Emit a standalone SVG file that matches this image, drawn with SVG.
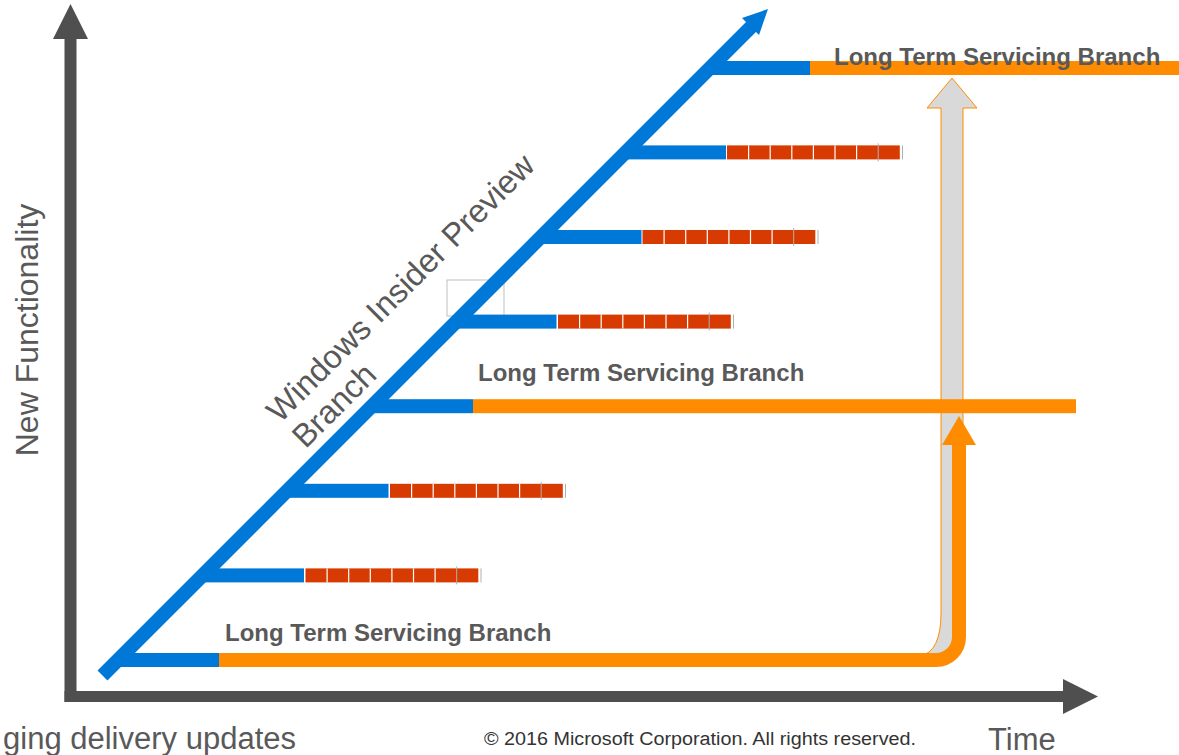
<svg xmlns="http://www.w3.org/2000/svg" width="1179" height="755" viewBox="0 0 1179 755">
<style>
.axis{fill:#4F4F4F}
.blue{fill:#0078D7}
.orange{fill:#FF8C00}
.red{fill:#D83B01}
.sep{stroke:#FFFFFF;stroke-width:1.2}
.tick{stroke:#B0B0B0;stroke-width:1}
.lbl{font-family:"Liberation Sans",Arial,sans-serif;fill:#595959}
.ltsb{font-family:"Liberation Sans",Arial,sans-serif;font-weight:bold;font-size:24px;fill:#595959}
</style>
<defs>
<g id="redbar">
<rect class="red" x="0" y="-7" width="172.8" height="14"/>
<line class="sep" x1="21.6" y1="-7" x2="21.6" y2="7"/>
<line class="sep" x1="43.2" y1="-7" x2="43.2" y2="7"/>
<line class="sep" x1="64.8" y1="-7" x2="64.8" y2="7"/>
<line class="sep" x1="86.4" y1="-7" x2="86.4" y2="7"/>
<line class="sep" x1="108" y1="-7" x2="108" y2="7"/>
<line class="sep" x1="129.6" y1="-7" x2="129.6" y2="7"/>
<line class="tick" x1="151.2" y1="-9" x2="151.2" y2="9"/>
<line class="tick" x1="175.5" y1="-7" x2="175.5" y2="7"/>
</g>
</defs>

<g id="axes">
<rect class="axis" x="64.5" y="38" width="12" height="664"/>
<polygon class="axis" points="53,39 70.5,4 88,39"/>
<rect class="axis" x="64.5" y="691" width="999" height="11"/>
<polygon class="axis" points="1063,679 1098,696.5 1063,714"/>
</g>

<rect id="placeholder-box" x="447" y="280" width="57" height="36" fill="none" stroke="#BFBFBF" stroke-width="1"/>

<g id="ltsb-upgrade-arrow">
<path d="M941 108 L927 108 L952 78 L977 108 L963 108 L963 637 Q963 660 940 660 L920 656 Q941 652 941 613 Z" fill="#D9D9D9" stroke="#FF8C00" stroke-width="1"/>
</g>

<g id="connectors">
<path d="M219 660 H936 A23 23 0 0 0 959 637 V444" fill="none" stroke="#FF8C00" stroke-width="14"/>
<polygon class="orange" points="942,445 959,416 976,445"/>
</g>

<g id="branch-1">
<rect class="blue" x="118" y="653" width="101" height="14"/>
</g>
<g id="branch-2">
<rect class="blue" x="203" y="568.4" width="101" height="14"/>
<use href="#redbar" x="305.5" y="575.4"/>
</g>
<g id="branch-3">
<rect class="blue" x="287" y="483.8" width="101.5" height="14"/>
<use href="#redbar" x="390" y="490.8"/>
</g>
<g id="branch-4">
<rect class="blue" x="372" y="399.2" width="101" height="14"/>
<rect class="orange" x="473" y="399.2" width="603" height="14"/>
</g>
<g id="branch-5">
<rect class="blue" x="456" y="314.6" width="100.5" height="14"/>
<use href="#redbar" x="558" y="321.6"/>
</g>
<g id="branch-6">
<rect class="blue" x="541" y="230" width="100.5" height="14"/>
<use href="#redbar" x="642.5" y="237"/>
</g>
<g id="branch-7">
<rect class="blue" x="626" y="145.4" width="100" height="14"/>
<use href="#redbar" x="727" y="152.4"/>
</g>
<g id="branch-8">
<rect class="blue" x="710" y="61" width="100" height="14"/>
<rect class="orange" x="810" y="61" width="369" height="14"/>
</g>

<g id="insider-branch">
<line x1="102.5" y1="675.5" x2="752" y2="26" stroke="#0078D7" stroke-width="14"/>
<polygon class="blue" points="742,18 768,9 759,35"/>
</g>

<g id="labels">
<text class="ltsb" x="834" y="65">Long Term Servicing Branch</text>
<text class="ltsb" x="478" y="381">Long Term Servicing Branch</text>
<text class="ltsb" x="225" y="641">Long Term Servicing Branch</text>
<g transform="translate(280,424) rotate(-45)">
<text class="lbl" x="0" y="0" font-size="32.5">Windows Insider Preview</text>
<text class="lbl" x="0" y="36" font-size="32.5">Branch</text>
</g>
<text class="lbl" font-size="32" transform="translate(38,330) rotate(-90)" text-anchor="middle">New Functionality</text>
<text class="lbl" font-size="31" x="296" y="749" text-anchor="end">ging delivery updates</text>
<text class="lbl" font-size="31" x="988" y="750">Time</text>
<text font-family="'Liberation Sans',Arial,sans-serif" font-size="18" fill="#333333" x="484" y="745" textLength="432" lengthAdjust="spacingAndGlyphs">© 2016 Microsoft Corporation. All rights reserved.</text>
</g>
</svg>
